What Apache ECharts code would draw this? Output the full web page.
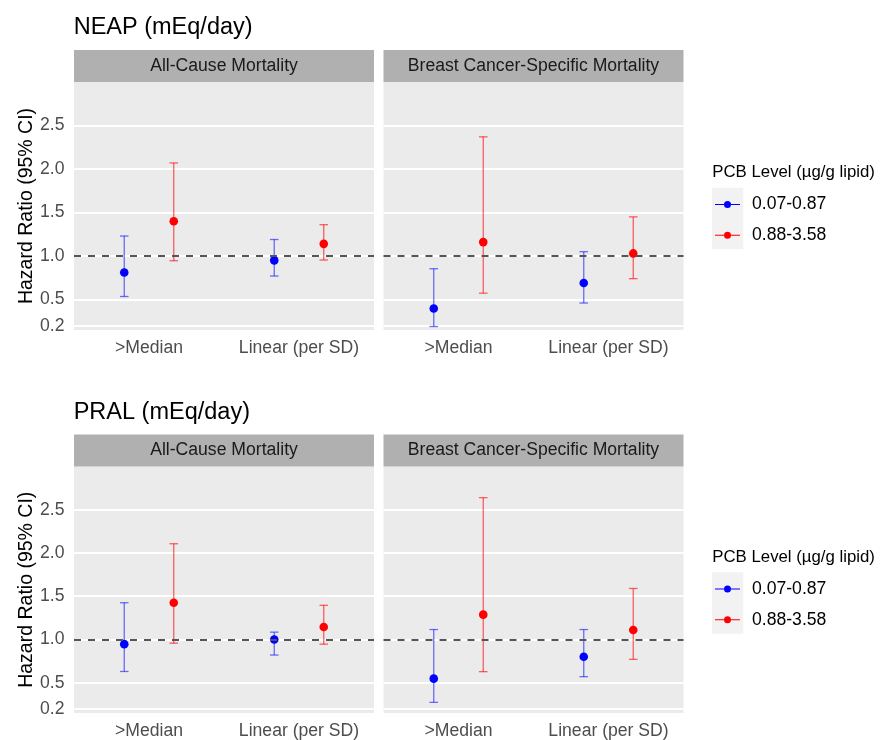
<!DOCTYPE html>
<html><head><meta charset="utf-8">
<script src="https://cdn.jsdelivr.net/npm/echarts@6/dist/echarts.min.js"></script>
<style>html,body{margin:0;padding:0;background:#fff}#c{width:886px;height:740px}</style>
</head><body><div id="c"></div>
<script>
// ---------- data ----------
const categories = ['>Median', 'Linear (per SD)'];
const pcbLevels = ['0.07-0.87', '0.88-3.58'];
const yTicks = [0.2, 0.5, 1.0, 1.5, 2.0, 2.5];
const panelTitles = ['NEAP (mEq/day)', 'PRAL (mEq/day)'];
const facetTitles = ['All-Cause Mortality', 'Breast Cancer-Specific Mortality'];
const legendTitle = 'PCB Level (µg/g lipid)';
const yTitle = 'Hazard Ratio (95% CI)';
const refLine = 1.0;
// each entry per category: [HR, lower CI, upper CI]
const neapAllLowPcb  = [[0.81, 0.535, 1.23], [0.95, 0.77, 1.19]];
const neapAllHighPcb = [[1.40, 0.946, 2.07], [1.14, 0.954, 1.36]];
const neapBcLowPcb   = [[0.397, 0.19, 0.854], [0.69, 0.46, 1.05]];
const neapBcHighPcb  = [[1.16, 0.573, 2.37], [1.03, 0.74, 1.45]];
const pralAllLowPcb  = [[0.946, 0.63, 1.425], [1.00, 0.82, 1.085]];
const pralAllHighPcb = [[1.425, 0.957, 2.107], [1.145, 0.946, 1.395]];
const pralBcLowPcb   = [[0.547, 0.273, 1.115], [0.80, 0.57, 1.115]];
const pralBcHighPcb  = [[1.287, 0.628, 2.64], [1.11, 0.77, 1.59]];

// ---------- layout / style ----------
const FONT = "'Liberation Sans', Arial, sans-serif";
const pointColors = ['#0000FF', '#FF0000'];
const barColors = ['rgba(0,0,255,0.55)', 'rgba(255,0,0,0.6)'];
const DY = 384.5;
const facetLefts = [74, 383.5];
const FW = 300, PTOP = 82, PH = 248, STRIP_H = 32;
const facetData = [
  [neapAllLowPcb, neapAllHighPcb], [neapBcLowPcb, neapBcHighPcb],
  [pralAllLowPcb, pralAllHighPcb], [pralBcLowPcb, pralBcHighPcb]
];

const grids = [], xAxes = [], yAxes = [], series = [], graphics = [];
for (let p = 0; p < 2; p++) {
  for (let f = 0; f < 2; f++) {
    const gi = p * 2 + f;
    const top = PTOP + p * DY;
    grids.push({left: facetLefts[f], top: top, width: FW, height: PH,
      show: true, backgroundColor: '#EBEBEB', borderWidth: 0, containLabel: false});
    xAxes.push({type: 'category', gridIndex: gi, data: categories, boundaryGap: true,
      axisLine: {show: false}, axisTick: {show: false}, splitLine: {show: false},
      axisLabel: {margin: 9, fontSize: 17.6, color: '#4D4D4D', fontFamily: FONT, interval: 0}});
    yAxes.push({type: 'value', gridIndex: gi, min: 0.15, max: 3.0,
      name: f === 0 ? yTitle : '', nameLocation: 'middle', nameRotate: 90, nameGap: 37,
      nameTextStyle: {fontSize: 19.5, color: '#000', fontFamily: FONT},
      axisLine: {show: false},
      axisTick: {show: false, customValues: yTicks},
      axisLabel: {show: f === 0, customValues: yTicks, margin: 9.5, fontSize: 17.6,
        color: '#4D4D4D', fontFamily: FONT, formatter: v => v.toFixed(1)},
      splitLine: {show: true, lineStyle: {color: '#FFFFFF', width: 2}}});
    // reference dashed line
    series.push({type: 'line', xAxisIndex: gi, yAxisIndex: gi, data: [], z: 1, silent: true,
      markLine: {silent: true, symbol: ['none', 'none'], label: {show: false},
        lineStyle: {type: [7, 7], color: '#555555', width: 1.8},
        data: [{yAxis: refLine}]}});
    for (let k = 0; k < 2; k++) {
      const arr = facetData[gi][k];
      series.push({
        type: 'custom', name: pcbLevels[k], xAxisIndex: gi, yAxisIndex: gi, z: 3,
        itemStyle: {color: pointColors[k]},
        encode: {x: 0, y: [1, 2, 3]},
        data: arr.map((t, i) => [i, t[0], t[1], t[2]]),
        renderItem: (params, api) => {
          const ci = api.value(0);
          const bw = api.size([1, 0])[0];
          const dx = (k === 0 ? -1 : 1) * 0.165 * bw;
          const pe = api.coord([ci, api.value(1)]);
          const pl = api.coord([ci, api.value(2)]);
          const ph = api.coord([ci, api.value(3)]);
          const x = pe[0] + dx, cw = 4.3;
          const st = {stroke: barColors[k], lineWidth: 1.3};
          return {type: 'group', children: [
            {type: 'line', shape: {x1: x, y1: pl[1], x2: x, y2: ph[1]}, style: st},
            {type: 'line', shape: {x1: x - cw, y1: pl[1], x2: x + cw, y2: pl[1]}, style: st},
            {type: 'line', shape: {x1: x - cw, y1: ph[1], x2: x + cw, y2: ph[1]}, style: st},
            {type: 'circle', shape: {cx: x, cy: pe[1], r: 4.3}, style: {fill: pointColors[k]}}
          ]};
        }
      });
    }
    // strip
    graphics.push({type: 'rect', shape: {x: facetLefts[f], y: top - STRIP_H, width: FW, height: STRIP_H},
      style: {fill: '#B0B0B0'}, silent: true});
    graphics.push({type: 'text', x: facetLefts[f] + FW / 2, y: top - STRIP_H / 2,
      style: {text: facetTitles[f], fontSize: 17.6, fill: '#1A1A1A', fontFamily: FONT,
        align: 'center', verticalAlign: 'middle'}, silent: true});
  }
  // panel title
  graphics.push({type: 'text', x: 73.7, y: 28 + p * DY,
    style: {text: panelTitles[p], fontSize: 23.5, fill: '#000', fontFamily: FONT,
      align: 'left', verticalAlign: 'middle'}, silent: true});
  // legend title & key background
  graphics.push({type: 'text', x: 712.3, y: 172.7 + p * DY,
    style: {text: legendTitle, fontSize: 16.8, fill: '#000', fontFamily: FONT,
      align: 'left', verticalAlign: 'middle'}, silent: true});
  graphics.push({type: 'rect', shape: {x: 712, y: 187.7 + p * DY, width: 31.3, height: 61.6},
    style: {fill: '#F2F2F2'}, silent: true, z: -1});
}

const legendIcon = 'path://M0,3L9,3L9,4L0,4Z M16,3L25,3L25,4L16,4Z M16,3.5A3.5,3.5,0,1,1,9,3.5A3.5,3.5,0,1,1,16,3.5Z';
const legends = [0, 1].map(p => ({
  left: 715, top: 194.5 + p * DY, orient: 'vertical', padding: 0,
  itemWidth: 25, itemHeight: 7, itemGap: 10.7, itemTextGap: 11.7, icon: legendIcon,
  textStyle: {fontSize: 17.6, lineHeight: 20, color: '#000', fontFamily: FONT, padding: [0, 0, 0, 7]},
  data: pcbLevels, selectedMode: false
}));

const chart = echarts.init(document.getElementById('c'), null, {renderer: 'canvas'});
chart.setOption({
  backgroundColor: '#FFFFFF',
  animation: false,
  textStyle: {fontFamily: FONT},
  grid: grids, xAxis: xAxes, yAxis: yAxes, series: series,
  legend: legends,
  graphic: {elements: graphics}
});
</script></body></html>
